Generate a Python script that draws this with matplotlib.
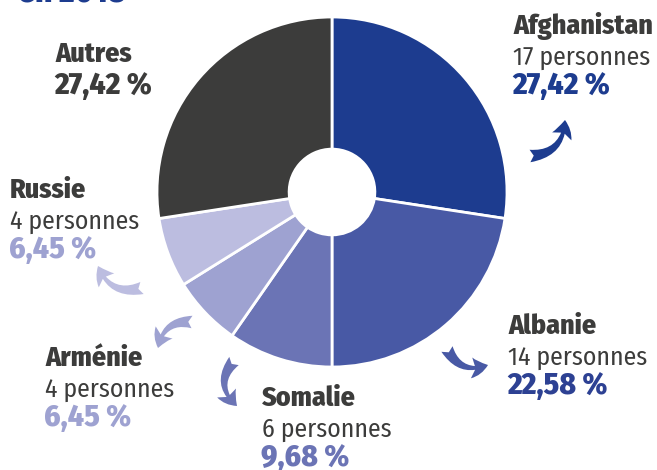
import matplotlib
matplotlib.use("Agg")
import matplotlib.pyplot as plt
from matplotlib.patches import FancyArrowPatch

countries = ["Afghanistan", "Albanie", "Somalie", "Arménie", "Russie", "Autres"]
persons = [17, 14, 6, 4, 4, 17]
pct_labels = ["27,42 %", "22,58 %", "9,68 %", "6,45 %", "6,45 %", "27,42 %"]
wedge_colors = ["#1d3c8f", "#4859a5", "#6b74b5", "#9ea2d1", "#bcbde0", "#3c3c3b"]
pct_colors = ["#1d3c8f", "#2d4193", "#6b74b5", "#9ea2d1", "#9ea2d1", "#3c3c3b"]

W, H = 657, 470
NAME_C = "#3c3c3b"
FONT = ["Fira Sans Condensed", "Roboto Condensed", "DejaVu Sans"]


def Y(y):
    # pixel rows counted from the top
    return H - y


fig = plt.figure(figsize=(W / 100, H / 100), dpi=100)
ax = fig.add_axes([0, 0, 1, 1])

ax.pie(persons, colors=wedge_colors, startangle=90, counterclock=False,
       center=(332, Y(192)), radius=175,
       wedgeprops=dict(width=175 * 0.755, edgecolor="white", linewidth=2))
ax.set_xlim(0, W)
ax.set_ylim(0, H)
ax.set_aspect("equal")
ax.axis("off")

# label blocks: name, "n personnes", percentage
blocks = {
    "Afghanistan": (513, 34),
    "Albanie": (508, 334),
    "Somalie": (262, 406),
    "Arménie": (45, 366),
    "Russie": (10, 198),
}
for name, n, pct, pc in zip(countries, persons, pct_labels, pct_colors):
    if name == "Autres":
        ax.text(55, Y(62), name, family=FONT, weight="heavy", fontsize=20,
                color=NAME_C)
        ax.text(54, Y(94), pct, family=FONT, weight="heavy", fontsize=22.5,
                color=NAME_C)
        continue
    x, y = blocks[name]
    ax.text(x, Y(y), name, family=FONT, weight="heavy", fontsize=20,
            color=NAME_C)
    ax.text(x, Y(y + 31), f"{n} personnes", family=FONT, weight="normal",
            fontsize=18.5, color="#3c3c3b")
    ax.text(x - 1, Y(y + 60), pct, family=FONT, weight="heavy", fontsize=22.5,
            color=pc)

# curved pointers from the ring to each label
arrows = [
    ((530, 156), (565, 120), 0.45, pct_colors[0]),
    ((447, 349), (488, 365), 0.45, wedge_colors[1]),
    ((234, 361), (237, 406), 0.5, wedge_colors[2]),
    ((192, 322), (158, 348), 0.45, wedge_colors[3]),
    ((142, 288), (98, 266), -0.45, wedge_colors[4]),
]
for (x0, y0), (x1, y1), rad, c in arrows:
    ax.add_patch(FancyArrowPatch(
        (x0, Y(y0)), (x1, Y(y1)), connectionstyle=f"arc3,rad={rad}",
        arrowstyle="fancy,head_length=6,head_width=7.5,tail_width=4.5",
        color=c, lw=0, mutation_scale=2.0, shrinkA=0, shrinkB=0))

# bottom of the heading line above the chart
ax.text(18, Y(1), "en 2018", family=FONT, weight="heavy", fontsize=24,
        color="#1d3c8f", va="baseline", clip_on=False)

fig.savefig("out.png", dpi=100)
